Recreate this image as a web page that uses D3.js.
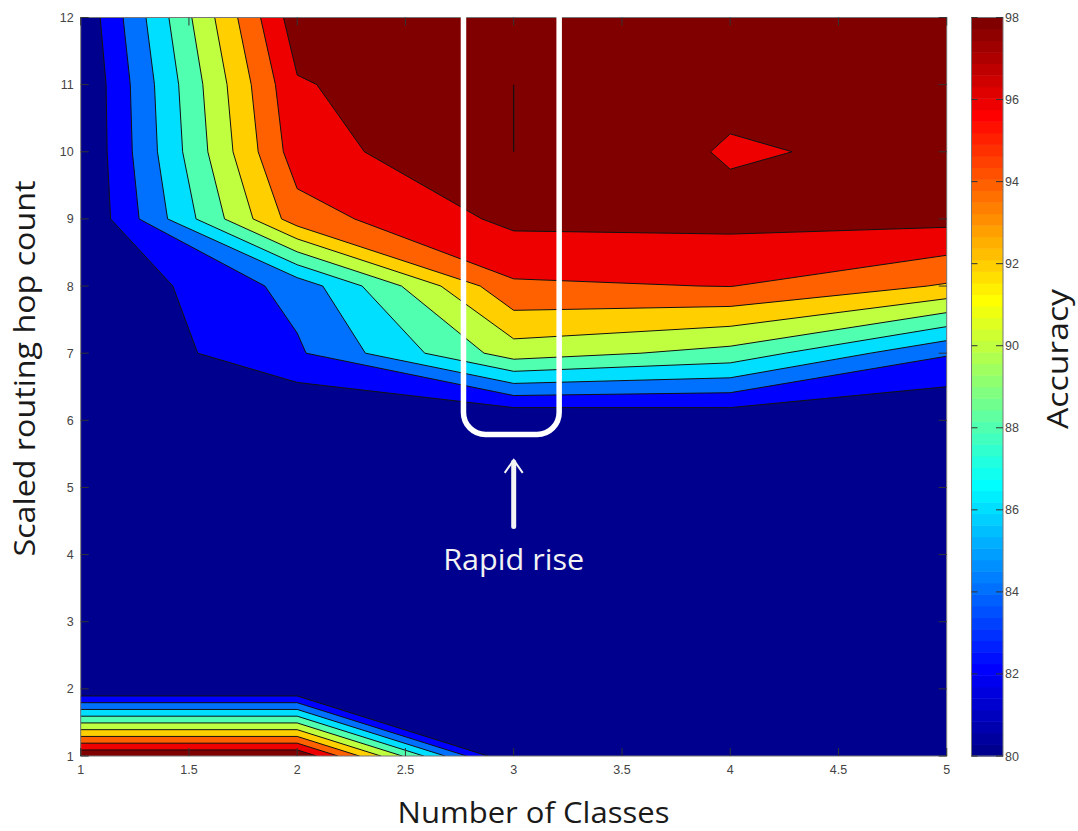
<!DOCTYPE html>
<html>
<head>
<meta charset="utf-8">
<script src="https://cdn.jsdelivr.net/npm/d3@7"></script>
<style>
  body { margin: 0; background: #fff; }
</style>
</head>
<body>
<svg id="chart" width="1078" height="831"></svg>
<script>
// Grid axes
const classes = [1, 2, 3, 4, 5];
const hopCounts = [1, 2, 3, 4, 5, 6, 7, 8, 9, 10, 11, 12];

// Accuracy for each number of classes, hop count 1..12
const acc1 = [99.8, 79.9, 80.0, 80.0, 80.0, 80.0, 80.0, 80.0, 79.9, 79.9, 79.9, 80.3];
const acc2 = [99.8, 79.9, 79.9, 79.8, 79.8, 79.8, 83.7, 84.7, 95.1, 97.1, 97.8, 99.2];
const acc3 = [79.6, 79.9, 79.9, 79.9, 79.9, 79.9, 91.0, 95.7, 98.5, 100, 100, 99.5];
const acc4 = [79.8, 79.9, 80.0, 80.1, 80.2, 80.3, 89.3, 96.05, 98.57, 97.8, 98.55, 99.0];
const acc5 = [79.8, 79.8, 79.8, 79.8, 79.8, 79.8, 84.2, 93.8, 98.6, 98.5, 99.0, 99.0];

// Contour levels and colour axis
const levels = [82, 84, 86, 88, 90, 92, 94, 96, 98, 100];
const cbTicks = [80, 82, 84, 86, 88, 90, 92, 94, 96, 98];
const xTicks = [1, 1.5, 2, 2.5, 3, 3.5, 4, 4.5, 5];
const cmin = 80, cmax = 98;

const width = 1078, height = 831;
const margin = { top: 17.5, right: 131.3, bottom: 75, left: 80.7 };
const cb = { x0: 971.5, x1: 1003 };

const svg = d3.select("#chart");

const x = d3.scaleLinear().domain([1, 5]).range([margin.left, width - margin.right]);
const y = d3.scaleLinear().domain([1, 12]).range([height - margin.bottom, margin.top]);
const cy = d3.scaleLinear().domain([cmin, cmax]).range([height - margin.bottom, margin.top]);

// MATLAB jet(64)
function jet64(k) {
    let r, g, b;
    r = k < 25 ? 0 : k <= 40 ? (k - 24) / 16 : k <= 56 ? 1 : 1 - (k - 56) / 16;
    g = k < 9 ? 0 : k <= 24 ? (k - 8) / 16 : k <= 40 ? 1 : k <= 55 ? 1 - (k - 40) / 16 : 0;
    b = k <= 8 ? (k + 8) / 16 : k <= 24 ? 1 : k <= 39 ? 1 - (k - 24) / 16 : 0;
    return d3.rgb(r * 255, g * 255, b * 255).formatHex();
}
function colorOf(v) {
    let k = Math.floor((v - cmin) / (cmax - cmin) * 64) + 1;
    k = Math.max(1, Math.min(64, k));
    return jet64(k);
}

// grid values, row by row (hop count), column = classes
const columns = [acc1, acc2, acc3, acc4, acc5];
const nx = classes.length, ny = hopCounts.length;
const values = [];
for (let j = 0; j < ny; j++) {
    for (let i = 0; i < nx; i++) values.push(columns[i][j]);
}

const contours = d3.contours().size([nx, ny]).thresholds(levels)(values);

// grid coordinate -> pixel (d3 puts value i at i + 0.5)
const gx = d3.scaleLinear().domain([0.5, nx - 0.5]).range([x(classes[0]), x(classes[nx - 1])]);
const gy = d3.scaleLinear().domain([0.5, ny - 0.5]).range([y(hopCounts[0]), y(hopCounts[ny - 1])]);
const path = d3.geoPath(d3.geoTransform({
    point: function(px, py) { this.stream.point(gx(px), gy(py)); }
}));

svg.append("clipPath").attr("id", "plot-clip")
    .append("rect")
    .attr("x", x(1)).attr("y", y(12))
    .attr("width", x(5) - x(1)).attr("height", y(1) - y(12));

const plot = svg.append("g").attr("clip-path", "url(#plot-clip)");

plot.append("rect")
    .attr("x", x(1)).attr("y", y(12))
    .attr("width", x(5) - x(1)).attr("height", y(1) - y(12))
    .attr("fill", colorOf(cmin));

plot.selectAll("path.band")
    .data(contours)
    .join("path")
    .attr("class", "band")
    .attr("d", path)
    .attr("fill", d => colorOf(d.value))
    .attr("stroke", "#111")
    .attr("stroke-width", 1)
    .attr("stroke-linejoin", "round");

// grid edges lying exactly on a level (drawn by MATLAB as a line)
const flatEdges = [];
for (let j = 0; j < ny; j++) {
    for (let i = 0; i < nx; i++) {
        const v = columns[i][j];
        if (!levels.includes(v)) continue;
        if (i + 1 < nx && columns[i + 1][j] === v) flatEdges.push([[classes[i], hopCounts[j]], [classes[i + 1], hopCounts[j]]]);
        if (j + 1 < ny && columns[i][j + 1] === v) flatEdges.push([[classes[i], hopCounts[j]], [classes[i], hopCounts[j + 1]]]);
    }
}
plot.selectAll("line.flat")
    .data(flatEdges)
    .join("line")
    .attr("class", "flat")
    .attr("x1", d => x(d[0][0])).attr("y1", d => y(d[0][1]))
    .attr("x2", d => x(d[1][0])).attr("y2", d => y(d[1][1]))
    .attr("stroke", "#111")
    .attr("stroke-width", 1.2);

// Axes box and inward ticks
const tickLen = 8;
const axisColor = "#333";
const labelFont = "'Liberation Sans', Arial, sans-serif";

svg.append("rect")
    .attr("x", x(1)).attr("y", y(12))
    .attr("width", x(5) - x(1)).attr("height", y(1) - y(12))
    .attr("fill", "none").attr("stroke", "#777").attr("stroke-width", 1);

const xt = svg.append("g").selectAll("g").data(xTicks).join("g");
xt.append("line")
    .attr("x1", d => x(d)).attr("x2", d => x(d))
    .attr("y1", y(1)).attr("y2", y(1) - tickLen)
    .attr("stroke", axisColor);
xt.append("line")
    .attr("x1", d => x(d)).attr("x2", d => x(d))
    .attr("y1", y(12)).attr("y2", y(12) + tickLen)
    .attr("stroke", axisColor);
xt.append("text")
    .attr("x", d => x(d)).attr("y", y(1) + 18)
    .attr("text-anchor", "middle")
    .attr("font-family", labelFont).attr("font-size", 12.5)
    .attr("fill", "#444")
    .text(d => d);

const yt = svg.append("g").selectAll("g").data(hopCounts).join("g");
yt.append("line")
    .attr("x1", x(1)).attr("x2", x(1) + tickLen)
    .attr("y1", d => y(d)).attr("y2", d => y(d))
    .attr("stroke", axisColor);
yt.append("line")
    .attr("x1", x(5)).attr("x2", x(5) - tickLen)
    .attr("y1", d => y(d)).attr("y2", d => y(d))
    .attr("stroke", axisColor);
yt.append("text")
    .attr("x", x(1) - 7).attr("y", d => y(d))
    .attr("dy", "0.36em")
    .attr("text-anchor", "end")
    .attr("font-family", labelFont).attr("font-size", 12.5)
    .attr("fill", "#444")
    .text(d => d);

// Colorbar
const cbSteps = d3.range(64);
svg.append("g").selectAll("rect")
    .data(cbSteps)
    .join("rect")
    .attr("x", cb.x0)
    .attr("width", cb.x1 - cb.x0)
    .attr("y", k => cy(cmin + (k + 1) * (cmax - cmin) / 64))
    .attr("height", (cy(cmin) - cy(cmax)) / 64 + 0.5)
    .attr("fill", k => jet64(k + 1));
svg.append("rect")
    .attr("x", cb.x0).attr("y", cy(cmax))
    .attr("width", cb.x1 - cb.x0).attr("height", cy(cmin) - cy(cmax))
    .attr("fill", "none").attr("stroke", "#777");
const ct = svg.append("g").selectAll("g").data(cbTicks).join("g");
ct.append("line")
    .attr("x1", cb.x0).attr("x2", cb.x0 + 6)
    .attr("y1", d => cy(d)).attr("y2", d => cy(d))
    .attr("stroke", axisColor);
ct.append("line")
    .attr("x1", cb.x1).attr("x2", cb.x1 - 7)
    .attr("y1", d => cy(d)).attr("y2", d => cy(d))
    .attr("stroke", axisColor);
ct.append("text")
    .attr("x", cb.x1 + 2).attr("y", d => cy(d))
    .attr("dy", "0.36em")
    .attr("font-family", labelFont).attr("font-size", 12.5)
    .attr("fill", "#444")
    .text(d => d);

// Axis titles
const titleFont = "'Open Sans', sans-serif";
svg.append("text")
    .attr("x", 533.5).attr("y", 823)
    .attr("text-anchor", "middle")
    .attr("font-family", titleFont).attr("font-size", 29)
    .attr("textLength", 272).attr("lengthAdjust", "spacingAndGlyphs")
    .attr("fill", "#1a1a1a")
    .text("Number of Classes");
svg.append("text")
    .attr("transform", `translate(35,368.5) rotate(-90)`)
    .attr("text-anchor", "middle")
    .attr("font-family", titleFont).attr("font-size", 29)
    .attr("textLength", 376).attr("lengthAdjust", "spacingAndGlyphs")
    .attr("fill", "#1a1a1a")
    .text("Scaled routing hop count");
svg.append("text")
    .attr("transform", `translate(1068,359) rotate(-90)`)
    .attr("text-anchor", "middle")
    .attr("font-family", titleFont).attr("font-size", 29)
    .attr("textLength", 140).attr("lengthAdjust", "spacingAndGlyphs")
    .attr("fill", "#1a1a1a")
    .text("Accuracy");

// Annotation: highlight box around 3 classes, arrow and text
const boxLeft = 2.768, boxRight = 3.21, boxBottom = 5.79, boxRadius = 22;
const bx0 = x(boxLeft), bx1 = x(boxRight), by = y(boxBottom);
const box = d3.path();
box.moveTo(bx0, -10);
box.lineTo(bx0, by - boxRadius);
box.arcTo(bx0, by, bx0 + boxRadius, by, boxRadius);
box.lineTo(bx1 - boxRadius, by);
box.arcTo(bx1, by, bx1, by - boxRadius, boxRadius);
box.lineTo(bx1, -10);
svg.append("path")
    .attr("d", box.toString())
    .attr("fill", "none")
    .attr("stroke", "#fff")
    .attr("stroke-width", 5.5);

const arrowX = 3, arrowFrom = 4.42, arrowTo = 5.41;
svg.append("line")
    .attr("x1", x(arrowX)).attr("x2", x(arrowX))
    .attr("y1", y(arrowFrom)).attr("y2", y(arrowTo) + 2)
    .attr("stroke", "#f4f4f4").attr("stroke-width", 5)
    .attr("stroke-linecap", "round");
svg.append("path")
    .attr("d", `M${x(arrowX) - 9},${y(arrowTo) + 13} L${x(arrowX)},${y(arrowTo)} L${x(arrowX) + 9},${y(arrowTo) + 13}`)
    .attr("fill", "none")
    .attr("stroke", "#f4f4f4").attr("stroke-width", 2);
svg.append("text")
    .attr("x", x(arrowX)).attr("y", y(3.77))
    .attr("text-anchor", "middle")
    .attr("font-family", titleFont).attr("font-size", 29)
    .attr("textLength", 141).attr("lengthAdjust", "spacingAndGlyphs")
    .attr("fill", "#f2f2f2")
    .text("Rapid rise");
</script>
</body>
</html>
